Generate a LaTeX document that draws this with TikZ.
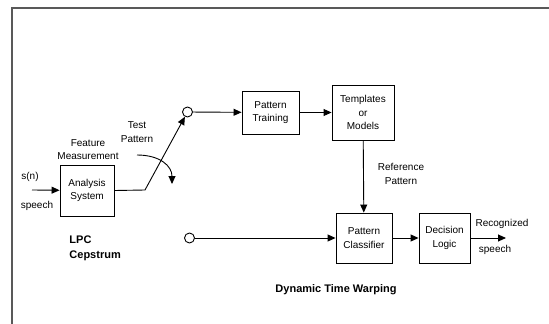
\documentclass[tikz,border=0pt]{standalone}
\usepackage{fontspec}
\setmainfont{Liberation Sans}
\usetikzlibrary{arrows.meta}
\begin{document}
\begin{tikzpicture}[>={Triangle[length=8pt,width=7pt]},x=1pt,y=-1pt,line width=0.9pt,
	blk/.style={draw,inner sep=0pt,align=center,font=\fontsize{10}{13.5}\selectfont},
	lbl/.style={inner sep=0pt,align=center,font=\fontsize{10}{13.5}\selectfont},
	bold lbl/.style={inner sep=0pt,align=left,font=\fontsize{11}{15}\selectfont\bfseries},
	term/.style={draw,circle,inner sep=0pt,minimum size=10pt}]
			\useasboundingbox (0,0) rectangle (549,324);
			% frame
			\draw[line width=1.4pt,black!65] (11,8) -- (549,8) (12,8) -- (12,324);
			% blocks
			\node[blk,minimum width=54pt,minimum height=51pt] (as) at (87,190.5) {Analysis\\System};
			\node[blk,minimum width=57pt,minimum height=43pt] (pt) at (270.5,112.5) {Pattern\\Training};
			\node[blk,minimum width=62pt,minimum height=55pt] (tm) at (363,112.5) {Templates\\or\\Models};
			\node[blk,minimum width=56pt,minimum height=50pt] (pc) at (364,238) {Pattern\\Classifier};
			\node[blk,minimum width=51pt,minimum height=50pt] (dl) at (444.5,238) {Decision\\Logic};
			% terminals
			\node[term] (up) at (187.5,112) {};
			\node[term] (lo) at (189.5,238) {};
			\coordinate (in) at (32,190);
			\coordinate (sw) at (145,190);
			\coordinate (out) at (506,238);
			\coordinate (rot) at (137,155);
			\coordinate (rotend) at (172,184);
			% connectors
			\draw[->] (in) -- (as);
			\draw[->] (as.east) -- (sw) -- (up);
			\draw[->] (rot) .. controls (160,155) and (172,166) .. (rotend);
			\draw[->] (up) -- (pt);
			\draw[->] (pt) -- (tm);
			\draw[->] (tm) -- (pc);
			\draw[->] (lo) -- (pc);
			\draw[->] (pc) -- (dl);
			\draw[->] (dl) -- (out);
			% labels
			\node[lbl] (sn) at (30,177) {s(n)};
			\node[lbl] (sp) at (37,206) {speech};
			\node[lbl] (fm) at (88,149.5) {Feature\\Measurement};
			\node[lbl] (tp) at (137,132) {Test\\Pattern};
			\node[lbl] (rp) at (401,174) {Reference\\Pattern};
			\node[lbl] (rc) at (502,224) {Recognized};
			\node[lbl] (rs) at (495,250) {speech};
			\node[bold lbl,anchor=west] (lpc) at (69,248.5) {LPC\\Cepstrum};
			\node[bold lbl] (dtw) at (336,290) {Dynamic Time Warping};
		\end{tikzpicture}
\end{document}
